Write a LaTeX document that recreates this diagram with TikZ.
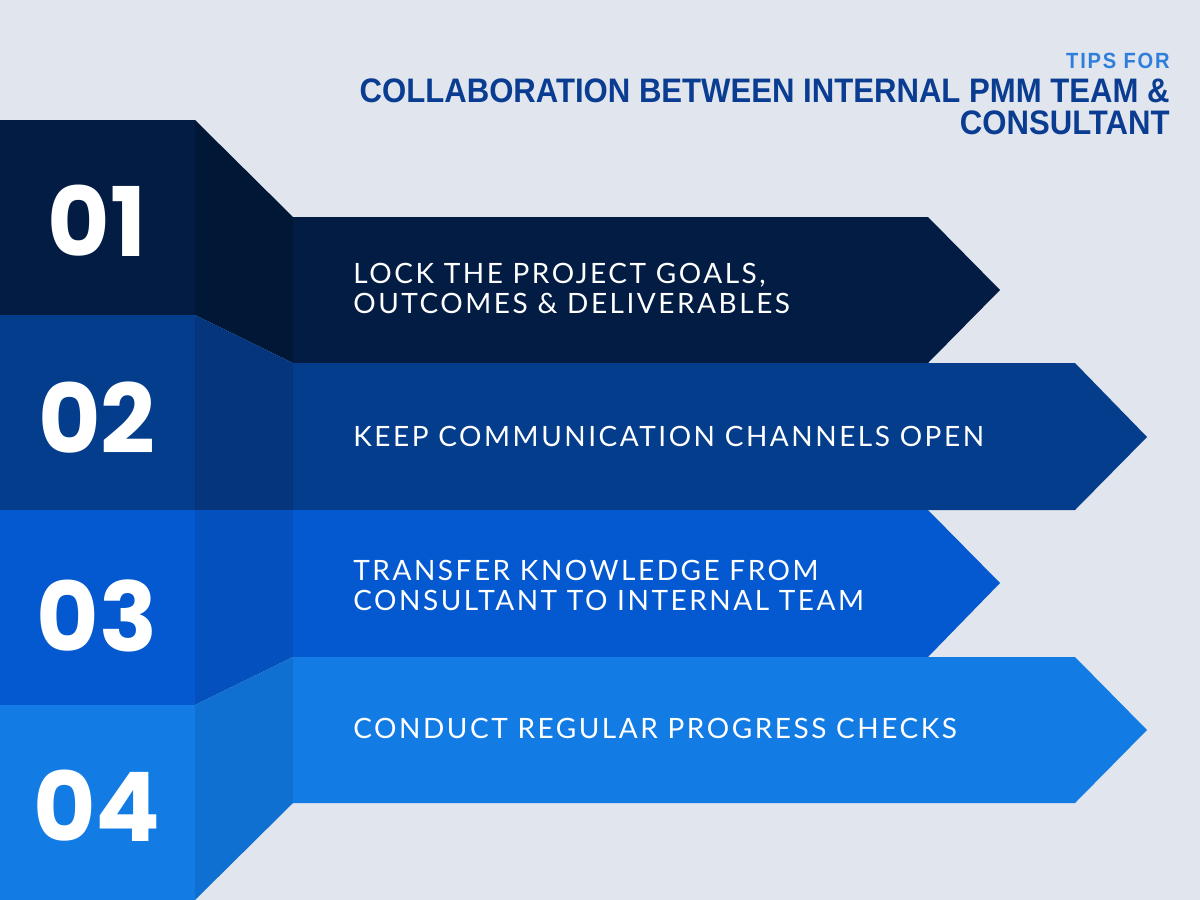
\documentclass[tikz,border=0pt]{standalone}
\usepackage{fontspec}
\setmainfont{Lato}
\newfontfamily\numfont{Poppins}
\newfontfamily\itemfont[LetterSpace=9]{Lato}
\newfontfamily\headfont[FakeStretch=0.915]{Liberation Sans}
\newfontfamily\tipsfont[FakeStretch=0.915,LetterSpace=8]{Liberation Sans}
\usetikzlibrary{positioning}

\definecolor{bgcol}{HTML}{E0E5EE}
\definecolor{rowA}{HTML}{021C43}
\definecolor{foldA}{HTML}{011736}
\definecolor{rowB}{HTML}{053D8D}
\definecolor{foldB}{HTML}{04357D}
\definecolor{rowC}{HTML}{0459D0}
\definecolor{foldC}{HTML}{0450BC}
\definecolor{rowD}{HTML}{137BE4}
\definecolor{foldD}{HTML}{1070D2}
\definecolor{headcol}{HTML}{0A3D91}
\definecolor{tipscol}{HTML}{2E7FDB}

\begin{document}
\begin{tikzpicture}[x=0.5pt,y=-0.5pt,
  num/.style={font=\numfont\bfseries\fontsize{48}{48}\selectfont,text=white,
              inner sep=0pt},
  item/.style={font=\itemfont\fontsize{14}{15}\selectfont,text=white,
               anchor=west,align=left,inner sep=0pt},
  head/.style={font=\headfont\bfseries\fontsize{17}{15}\selectfont,text=headcol,
               text height=12.5pt,text depth=0pt,inner sep=0pt},
  tips/.style={font=\tipsfont\bfseries\fontsize{11}{11}\selectfont,text=tipscol,
               text height=8pt,text depth=0pt,inner sep=0pt}]
\fill[bgcol] (0,0) rectangle (1200,900);
% row 01
\fill[rowA] (0,120) rectangle (195,315);
\fill[foldA] (195,120) -- (293,217) -- (293,363) -- (195,315) -- cycle;
\fill[rowA] (293,217) -- (928,217) -- (1000,290) -- (928,363) -- (293,363) -- cycle;
% row 02
\fill[rowB] (0,315) rectangle (195,510);
\fill[foldB] (195,315) -- (293,363) -- (293,510) -- (195,510) -- cycle;
\fill[rowB] (293,363) -- (1075,363) -- (1147,437) -- (1075,510) -- (293,510) -- cycle;
% row 03
\fill[rowC] (0,510) rectangle (195,705);
\fill[foldC] (195,510) -- (293,510) -- (293,657) -- (195,705) -- cycle;
\fill[rowC] (293,510) -- (928,510) -- (1000,583) -- (928,657) -- (293,657) -- cycle;
% row 04
\fill[rowD] (0,705) rectangle (195,900);
\fill[foldD] (195,705) -- (293,657) -- (293,803) -- (195,900) -- cycle;
\fill[rowD] (293,657) -- (1075,657) -- (1147,730) -- (1075,803) -- (293,803) -- cycle;

\node[num] (n1) at (97,221) {01};
\node[num] (n2) at (97,418) {02};
\node[num] (n3) at (97,616) {03};
\node[num] (n4) at (97,806) {04};

\node[item] (t1) at (353,288) {LOCK THE PROJECT GOALS,\\OUTCOMES \& DELIVERABLES};
\node[item] (t2) at (353,436) {KEEP COMMUNICATION CHANNELS OPEN};
\node[item] (t3) at (353,585) {TRANSFER KNOWLEDGE FROM\\CONSULTANT TO INTERNAL TEAM};
\node[item] (t4) at (353,728) {CONDUCT REGULAR PROGRESS CHECKS};

\node[head,anchor=base east] (title) at (1170,102)
  {COLLABORATION BETWEEN INTERNAL PMM TEAM \&};
\node[head,below left=3.5pt and 0pt of title.south east] (title2) {CONSULTANT};
\node[tips,above left=4pt and 0pt of title.north east] (tipsfor) {TIPS FOR};
\end{tikzpicture}
\end{document}
